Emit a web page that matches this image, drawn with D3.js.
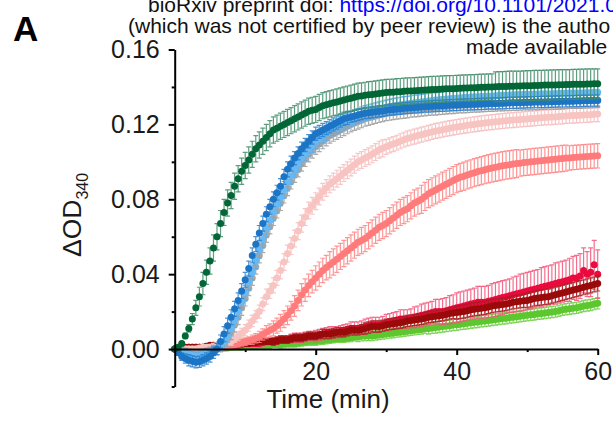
<!DOCTYPE html>
<html lang="en">
<head>
  <meta charset="UTF-8">
  <title>Time course ΔOD340</title>
  <script src="https://cdnjs.cloudflare.com/ajax/libs/d3/7.8.5/d3.min.js"></script>
  <style>
    body { margin: 0; background: #fff; }
    svg { display: block; font-family: "Liberation Sans", Arial, sans-serif; }
  </style>
</head>
<body>
  <svg width="613" height="421"></svg>
  <script>
    // sampling times (min), one reading every 30 s; each row below = 5 min
    const time = [
      0, 0.5, 1, 1.5, 2, 2.5, 3, 3.5, 4, 4.5,
      5, 5.5, 6, 6.5, 7, 7.5, 8, 8.5, 9, 9.5,
      10, 10.5, 11, 11.5, 12, 12.5, 13, 13.5, 14, 14.5,
      15, 15.5, 16, 16.5, 17, 17.5, 18, 18.5, 19, 19.5,
      20, 20.5, 21, 21.5, 22, 22.5, 23, 23.5, 24, 24.5,
      25, 25.5, 26, 26.5, 27, 27.5, 28, 28.5, 29, 29.5,
      30, 30.5, 31, 31.5, 32, 32.5, 33, 33.5, 34, 34.5,
      35, 35.5, 36, 36.5, 37, 37.5, 38, 38.5, 39, 39.5,
      40, 40.5, 41, 41.5, 42, 42.5, 43, 43.5, 44, 44.5,
      45, 45.5, 46, 46.5, 47, 47.5, 48, 48.5, 49, 49.5,
      50, 50.5, 51, 51.5, 52, 52.5, 53, 53.5, 54, 54.5,
      55, 55.5, 56, 56.5, 57, 57.5, 58, 58.5, 59, 59.5,
      60];

    const xTicks = [20, 40, 60];
    const xMinor = [10, 30, 50];
    const yTicks = [0, 0.04, 0.08, 0.12, 0.16];
    const yMinor = [-0.02, 0.02, 0.06, 0.10, 0.14];

    const lime = [
      0, 0, 0, 0, 0, 0, 0, 0, 0, 0,
      0, 0, .0005, .0005, .0005, .0005, .001, .001, .001, .001,
      .0015, .0015, .0015, .0015, .002, .002, .002, .002, .0025, .0025,
      .0025, .0028, .003, .003, .003, .0033, .0035, .0038, .004, .004,
      .004, .0043, .0045, .0048, .005, .0053, .0055, .0055, .0055, .0058,
      .006, .0063, .0065, .0068, .007, .007, .007, .0073, .0075, .0078,
      .008, .0083, .0085, .0088, .009, .0093, .0095, .0098, .010, .0103,
      .0105, .0108, .011, .0113, .0115, .0118, .012, .0123, .0125, .0128,
      .013, .0133, .0135, .0138, .014, .0143, .0145, .0148, .015, .0153,
      .0155, .0158, .016, .0163, .0165, .0168, .017, .0173, .0175, .0178,
      .018, .0183, .0185, .0188, .019, .0193, .0195, .0198, .020, .0205,
      .021, .0213, .0215, .0218, .022, .0225, .023, .0233, .0235, .024,
      .0245];
    const limeErr = [
      0, .0005, .001, .001, .001, .001, .001, .001, .001, .001,
      .001, .001, .001, .001, .001, .001, .001, .001, .001, .001,
      .0015, .0015, .0015, .0015, .0015, .0015, .0015, .0015, .0015, .0015,
      .002, .002, .002, .002, .002, .002, .002, .002, .002, .002,
      .002, .002, .002, .002, .002, .002, .002, .002, .002, .002,
      .002, .002, .0025, .0025, .0025, .0025, .0025, .0025, .0025, .0025,
      .0025, .0025, .0025, .0025, .0025, .0025, .0025, .0025, .0025, .0025,
      .0025, .0025, .003, .003, .003, .003, .003, .003, .003, .003,
      .003, .003, .003, .003, .003, .003, .003, .003, .003, .003,
      .003, .003, .003, .003, .003, .003, .003, .003, .003, .003,
      .003, .003, .003, .003, .003, .003, .003, .003, .003, .003,
      .003, .003, .003, .003, .003, .003, .003, .003, .003, .003,
      .003];

    const crimson = [
      0, 0, 0, .0005, .001, .001, .001, .001, .001, .001,
      .001, .0015, .002, .002, .002, .002, .002, .002, .002, .0025,
      .003, .003, .003, .003, .003, .0035, .004, .004, .004, .0045,
      .005, .005, .005, .0055, .006, .006, .006, .0065, .007, .007,
      .007, .0075, .008, .0085, .009, .009, .009, .0095, .010, .0105,
      .011, .011, .011, .0115, .012, .0125, .013, .013, .013, .0135,
      .014, .0145, .015, .0155, .016, .016, .016, .0165, .017, .0175,
      .018, .0185, .019, .0195, .020, .020, .020, .0205, .021, .0215,
      .022, .0225, .023, .0235, .024, .0245, .025, .025, .025, .0255,
      .026, .0265, .027, .0275, .028, .0285, .029, .0295, .030, .0305,
      .031, .0315, .032, .0325, .033, .0335, .034, .0345, .035, .0355,
      .036, .0365, .037, .038, .038, .039, .042, .040, .041, .045,
      .040];
    const crimsonErr = [
      0, .0005, .001, .001, .001, .001, .001, .001, .001, .001,
      .001, .001, .001, .001, .001, .0015, .0015, .0015, .0015, .0015,
      .0015, .0015, .0015, .0015, .002, .002, .002, .002, .002, .002,
      .002, .002, .002, .0025, .0025, .0025, .0025, .0025, .0025, .0025,
      .003, .003, .003, .003, .003, .003, .003, .003, .003, .003,
      .0035, .0035, .0035, .0035, .004, .004, .004, .004, .004, .004,
      .0045, .0045, .0045, .0045, .005, .005, .005, .005, .0055, .0055,
      .006, .006, .006, .006, .0065, .0065, .007, .007, .0075, .0075,
      .008, .008, .008, .008, .008, .008, .0085, .0085, .0085, .0085,
      .009, .009, .009, .009, .009, .009, .0095, .0095, .010, .010,
      .010, .010, .010, .010, .0105, .0105, .0105, .0105, .011, .011,
      .011, .011, .0115, .0115, .012, .012, .012, .012, .013, .013,
      .013];

    const darkRed = [
      0, .0005, .001, .001, .001, .001, .001, .001, .001, .0015,
      .002, .002, .002, .002, .002, .002, .002, .0025, .0025, .003,
      .003, .003, .0035, .0035, .004, .004, .004, .004, .004, .0045,
      .005, .005, .005, .0055, .006, .006, .006, .0065, .007, .007,
      .007, .0075, .008, .008, .008, .0085, .009, .009, .009, .0095,
      .010, .010, .010, .0105, .011, .0115, .012, .012, .012, .0125,
      .013, .0133, .0135, .0138, .014, .0145, .015, .0153, .0155, .0158,
      .016, .0165, .017, .0173, .0175, .0178, .018, .0185, .019, .0193,
      .0195, .0198, .020, .0205, .021, .0213, .0215, .0218, .022, .0225,
      .023, .0233, .0235, .0238, .024, .0245, .025, .0253, .0255, .0258,
      .026, .0265, .027, .0273, .0275, .0278, .028, .0285, .029, .0295,
      .030, .0305, .031, .0315, .032, .0325, .033, .0335, .034, .0345,
      .035];
    const darkRedErr = [
      0, .0005, .001, .001, .001, .001, .001, .001, .001, .001,
      .001, .001, .001, .001, .001, .001, .001, .001, .0015, .0015,
      .0015, .0015, .0015, .0015, .0015, .0015, .0015, .0015, .002, .002,
      .002, .002, .002, .002, .002, .002, .002, .002, .002, .002,
      .002, .002, .0025, .0025, .0025, .0025, .0025, .0025, .0025, .0025,
      .0025, .0025, .0025, .0025, .003, .003, .003, .003, .003, .003,
      .003, .003, .003, .003, .003, .003, .003, .003, .003, .003,
      .003, .003, .003, .003, .003, .003, .003, .003, .003, .003,
      .0035, .0035, .0035, .0035, .0035, .0035, .0035, .0035, .0035, .0035,
      .0035, .0035, .0035, .0035, .0035, .0035, .0035, .0035, .0035, .0035,
      .004, .004, .004, .004, .004, .004, .004, .004, .004, .004,
      .004, .004, .004, .004, .004, .004, .004, .004, .004, .004,
      .004];

    const salmon = [
      0, 0, 0, 0, 0, 0, 0, 0, 0, 0,
      0, .0005, .001, .001, .001, .0015, .002, .0025, .003, .0035,
      .004, .0045, .005, .0058, .0065, .0078, .009, .010, .011, .0125,
      .014, .016, .018, .0205, .023, .026, .029, .0315, .034, .036,
      .038, .040, .042, .0435, .045, .0465, .048, .0495, .051, .0525,
      .054, .0555, .057, .058, .059, .0605, .062, .0635, .065, .066,
      .067, .0685, .070, .0715, .073, .074, .075, .0765, .078, .079,
      .080, .0815, .083, .084, .085, .086, .087, .088, .089, .090,
      .091, .0917, .0923, .093, .0936, .0942, .0948, .0953, .0958, .0963,
      .0967, .0971, .0975, .0979, .0982, .0985, .0988, .0991, .0993, .0996,
      .0998, .1, .1002, .1004, .1006, .1008, .101, .1012, .1014, .1016,
      .1018, .102, .1021, .1023, .1024, .1026, .1027, .1029, .103, .1031,
      .1032];
    const salmonErr = [
      0, .0005, .001, .001, .001, .001, .001, .001, .001, .001,
      .001, .001, .0015, .0015, .0015, .0015, .0015, .0015, .002, .002,
      .002, .002, .0025, .0025, .003, .003, .0035, .0035, .004, .004,
      .0045, .0045, .005, .005, .0055, .0055, .006, .006, .006, .006,
      .0065, .0065, .0065, .0065, .007, .007, .007, .007, .007, .007,
      .007, .007, .007, .007, .007, .007, .007, .007, .007, .007,
      .007, .007, .007, .007, .007, .007, .007, .007, .007, .007,
      .0075, .0075, .0075, .0075, .0075, .0075, .0075, .0075, .0075, .0075,
      .0075, .0075, .0075, .0075, .0075, .0075, .0075, .0075, .0075, .0075,
      .0075, .0075, .0075, .0075, .0075, .0075, .0075, .0075, .007, .007,
      .007, .007, .007, .007, .007, .007, .007, .007, .007, .007,
      .007, .007, .0065, .0065, .0065, .0065, .0065, .0065, .0065, .0065,
      .0065];

    const pink = [
      0, 0, 0, 0, 0, 0, 0, .0005, .001, .001,
      .001, .0015, .002, .0025, .003, .0035, .004, .0055, .007, .0085,
      .010, .0125, .015, .0175, .020, .024, .028, .031, .034, .038,
      .042, .0465, .051, .055, .059, .063, .067, .0705, .074, .0765,
      .079, .0815, .084, .086, .088, .0895, .091, .0925, .094, .0955,
      .097, .0985, .100, .101, .102, .103, .104, .1052, .1065, .1072,
      .108, .1088, .1095, .1102, .111, .1118, .1125, .113, .1135, .114,
      .1145, .115, .1155, .116, .1165, .1168, .1172, .1176, .118, .1183,
      .1186, .1189, .1192, .1195, .1198, .120, .1203, .1205, .1208, .121,
      .1212, .1214, .1216, .1218, .122, .1222, .1223, .1225, .1226, .1228,
      .1229, .1231, .1232, .1234, .1235, .1237, .1238, .1239, .124, .1242,
      .1243, .1245, .1246, .1247, .1248, .1249, .125, .1251, .1252, .1254,
      .1255];
    const pinkErr = [
      0, .0005, .001, .001, .001, .001, .001, .001, .001, .001,
      .0015, .0015, .0015, .0015, .002, .002, .002, .002, .0025, .0025,
      .003, .003, .003, .003, .0035, .0035, .004, .004, .004, .004,
      .0045, .0045, .0045, .0045, .0045, .0045, .0045, .0045, .0045, .0045,
      .0045, .0045, .0045, .0045, .0045, .0045, .0045, .0045, .0045, .0045,
      .0045, .0045, .0045, .0045, .0045, .0045, .0045, .0045, .0045, .0045,
      .004, .004, .004, .004, .004, .004, .004, .004, .004, .004,
      .004, .004, .004, .004, .004, .004, .004, .004, .004, .004,
      .004, .004, .004, .004, .004, .004, .004, .004, .004, .004,
      .004, .004, .004, .004, .004, .004, .004, .004, .004, .004,
      .004, .004, .004, .004, .004, .004, .004, .004, .004, .004,
      .004, .004, .004, .004, .004, .004, .004, .004, .004, .004,
      .004];

    const gray = [
      0, -.0005, -.001, -.0015, -.002, -.0025, -.003, -.0028, -.002, -.0015,
      -.001, -.0005, 0, .0015, .003, .0055, .009, .013, .017, .022,
      .027, .0325, .038, .044, .050, .0555, .061, .0655, .070, .074,
      .078, .082, .086, .0895, .093, .096, .099, .1015, .104, .106,
      .108, .1095, .111, .1125, .114, .115, .116, .117, .118, .119,
      .120, .1208, .1215, .1222, .123, .1235, .124, .1245, .125, .1255,
      .126, .1262, .1265, .1268, .127, .1272, .1275, .1278, .128, .1282,
      .1284, .1286, .1288, .1289, .129, .1292, .1294, .1295, .1297, .1298,
      .130, .1301, .1302, .1303, .1304, .1305, .1306, .1307, .1308, .1309,
      .131, .1311, .1312, .1312, .1313, .1314, .1315, .1315, .1316, .1317,
      .1318, .1318, .1319, .1319, .132, .132, .1321, .1321, .1322, .1322,
      .1323, .1324, .1325, .1325, .1326, .1326, .1327, .1328, .1328, .1329,
      .133];
    const grayErr = [
      0, .001, .002, .002, .002, .002, .002, .002, .002, .002,
      .002, .0025, .003, .003, .004, .004, .004, .004, .004, .004,
      .004, .004, .004, .004, .004, .004, .004, .004, .004, .004,
      .004, .004, .004, .004, .004, .004, .004, .004, .004, .004,
      .004, .004, .004, .004, .004, .004, .004, .004, .004, .004,
      .004, .004, .004, .004, .004, .004, .004, .004, .004, .004,
      .004, .004, .004, .004, .004, .004, .004, .004, .004, .004,
      .004, .004, .004, .004, .004, .004, .004, .004, .004, .004,
      .004, .004, .004, .004, .004, .004, .004, .004, .004, .004,
      .004, .004, .004, .004, .004, .004, .004, .004, .004, .004,
      .004, .004, .004, .004, .004, .004, .004, .004, .004, .004,
      .004, .004, .004, .004, .004, .004, .004, .004, .004, .004,
      .004];

    const lightBlue = [
      0, -.001, -.002, -.0025, -.003, -.0035, -.004, -.0038, -.003, -.0025,
      -.002, -.001, 0, .002, .004, .007, .011, .0155, .020, .025,
      .030, .0355, .041, .047, .053, .0585, .064, .0685, .073, .077,
      .081, .085, .089, .0925, .096, .099, .102, .1045, .107, .109,
      .111, .1125, .114, .1155, .117, .118, .119, .120, .121, .122,
      .123, .1238, .1245, .1252, .126, .1265, .127, .1275, .128, .1285,
      .129, .1294, .1298, .1302, .1305, .1308, .131, .1313, .1316, .1318,
      .132, .1323, .1325, .1328, .133, .1332, .1334, .1336, .1337, .1339,
      .134, .1342, .1343, .1345, .1346, .1347, .1348, .1349, .135, .1351,
      .1352, .1353, .1354, .1355, .1356, .1357, .1358, .1359, .136, .136,
      .1361, .1361, .1362, .1362, .1363, .1363, .1364, .1364, .1365, .1365,
      .1366, .1366, .1367, .1367, .1368, .1368, .1369, .1369, .137, .1371,
      .1372];
    const lightBlueErr = [
      0, .001, .002, .002, .002, .002, .002, .002, .002, .002,
      .002, .0025, .003, .003, .003, .0035, .004, .004, .004, .004,
      .004, .004, .004, .004, .0045, .0045, .0045, .0045, .0045, .0045,
      .0045, .0045, .0045, .0045, .0045, .0045, .004, .004, .004, .004,
      .004, .004, .004, .004, .004, .004, .004, .004, .004, .004,
      .004, .004, .004, .004, .004, .004, .004, .004, .004, .004,
      .004, .004, .004, .004, .004, .004, .004, .004, .004, .004,
      .004, .004, .004, .004, .004, .004, .004, .004, .004, .004,
      .004, .004, .004, .004, .004, .004, .004, .004, .004, .004,
      .004, .004, .004, .004, .004, .004, .004, .004, .004, .004,
      .004, .004, .004, .004, .004, .004, .004, .004, .004, .004,
      .004, .004, .004, .004, .004, .004, .004, .004, .004, .004,
      .004];

    const darkBlue = [
      0, -.002, -.004, -.005, -.006, -.0065, -.007, -.0068, -.006, -.005,
      -.004, -.002, 0, .004, .008, .0125, .017, .0215, .026, .031,
      .037, .043, .050, .056, .062, .067, .072, .076, .080, .0835,
      .087, .092, .096, .099, .102, .1045, .107, .109, .111, .113,
      .115, .116, .117, .118, .119, .120, .121, .122, .123, .1235,
      .124, .1245, .125, .1255, .126, .1262, .1265, .1268, .127, .1272,
      .1275, .1278, .128, .1282, .1284, .1286, .1288, .1289, .129, .1292,
      .1293, .1295, .1296, .1297, .1298, .1299, .130, .1301, .1302, .1303,
      .1304, .1305, .1306, .1306, .1307, .1308, .1309, .1309, .131, .1311,
      .1312, .1312, .1313, .1313, .1314, .1315, .1316, .1316, .1317, .1317,
      .1318, .1318, .1319, .1319, .132, .132, .1321, .1321, .1322, .1322,
      .1323, .1323, .1324, .1324, .1325, .1325, .1326, .1326, .1327, .1327,
      .1328];
    const darkBlueErr = [
      0, .001, .002, .0025, .003, .003, .003, .003, .003, .003,
      .003, .003, .003, .0035, .004, .004, .004, .004, .004, .004,
      .004, .004, .004, .004, .004, .004, .004, .004, .004, .004,
      .004, .004, .004, .004, .0035, .0035, .0035, .0035, .0035, .0035,
      .0035, .0035, .0035, .0035, .0035, .0035, .0035, .0035, .0035, .0035,
      .003, .003, .003, .003, .003, .003, .003, .003, .003, .003,
      .003, .003, .003, .003, .003, .003, .003, .003, .003, .003,
      .003, .003, .003, .003, .003, .003, .003, .003, .003, .003,
      .003, .003, .003, .003, .003, .003, .003, .003, .003, .003,
      .003, .003, .003, .003, .003, .003, .003, .003, .003, .003,
      .003, .003, .003, .003, .003, .003, .003, .003, .003, .003,
      .003, .003, .003, .003, .003, .003, .003, .003, .003, .003,
      .003];

    const green = [
      0, .001, .003, .007, .011, .016, .022, .028, .035, .041,
      .047, .054, .060, .067, .073, .078, .082, .087, .091, .095,
      .098, .101, .104, .107, .109, .111, .113, .115, .117, .118,
      .119, .120, .121, .122, .123, .124, .125, .126, .127, .1275,
      .128, .129, .130, .1305, .131, .1315, .132, .1325, .133, .1335,
      .134, .1345, .135, .1352, .1355, .1358, .136, .1362, .1365, .1368,
      .137, .1371, .1372, .1374, .1375, .1377, .1378, .1379, .138, .1381,
      .1382, .1384, .1385, .1386, .1387, .1388, .1389, .139, .139, .1391,
      .1392, .1393, .1394, .1395, .1396, .1396, .1397, .1398, .1399, .140,
      .140, .1401, .1402, .1402, .1403, .1404, .1404, .1405, .1405, .1406,
      .1407, .1407, .1408, .1408, .1409, .141, .141, .1411, .1411, .1412,
      .1412, .1413, .1413, .1414, .1414, .1415, .1415, .1416, .1416, .1417,
      .1417];
    const greenErr = [
      0, .0005, .001, .0015, .002, .003, .004, .005, .006, .0065,
      .007, .007, .007, .007, .007, .007, .007, .007, .007, .007,
      .007, .007, .007, .007, .007, .007, .007, .007, .007, .007,
      .007, .007, .007, .007, .007, .007, .007, .007, .007, .007,
      .007, .007, .007, .007, .007, .007, .007, .007, .007, .007,
      .007, .007, .007, .007, .007, .007, .007, .007, .007, .007,
      .007, .007, .007, .007, .007, .007, .007, .007, .007, .007,
      .007, .007, .007, .007, .007, .007, .007, .007, .007, .007,
      .007, .007, .007, .007, .007, .007, .007, .007, .007, .007,
      .007, .008, .008, .008, .008, .008, .008, .008, .008, .008,
      .008, .008, .008, .008, .008, .008, .008, .008, .008, .008,
      .008, .008, .008, .008, .008, .008, .008, .008, .008, .008,
      .008];

    // drawing order: first entry is at the bottom
    const series = [
      { values: lime, err: limeErr, dot: '#5cc72e', bar: '#6fd043' },
      { values: crimson, err: crimsonErr, dot: '#ea0a3d', bar: '#f2557a' },
      { values: darkRed, err: darkRedErr, dot: '#9a0a0a', bar: '#a52020' },
      { values: salmon, err: salmonErr, dot: '#ff7b7b', bar: '#ff8484' },
      { values: pink, err: pinkErr, dot: '#f7c4c1', bar: '#f6bcbc' },
      { values: gray, err: grayErr, dot: '#a6a6a6', bar: '#9c9c9c' },
      { values: lightBlue, err: lightBlueErr, dot: '#66b9f3', bar: '#58aef0' },
      { values: darkBlue, err: darkBlueErr, dot: '#1c74c4', bar: '#2a7fcc' },
      { values: green, err: greenErr, dot: '#036636', bar: '#3f8d68' }
    ];

    const svg = d3.select('svg');
    const x = d3.scaleLinear().domain([0, 60]).range([174.7, 597.7]);
    const y = d3.scaleLinear().domain([-0.02, 0.16]).range([386.5, 49.5]);

    // header of the preprint page
    const header = svg.append('g').attr('font-size', 21).attr('fill', '#111');
    const l1 = header.append('text').attr('x', 148).attr('y', 12);
    l1.append('tspan').text('bioRxiv preprint doi: ');
    l1.append('tspan').attr('fill', '#0000ff').text('https://doi.org/10.1101/2021.0');
    header.append('text').attr('x', 128).attr('y', 33)
      .text('(which was not certified by peer review) is the autho');
    header.append('text').attr('x', 466).attr('y', 54).text('made available');

    svg.append('text').attr('x', 13).attr('y', 41)
      .attr('font-size', 35).attr('font-weight', 'bold').text('A');

    // data
    const plot = svg.append('g');
    series.forEach(s => {
      const g = plot.append('g');
      const pts = time.map((t, i) => ({ t: t, v: s.values[i], e: s.err[i] }));
      g.append('g')
        .attr('stroke', s.bar).attr('stroke-width', 1.2).attr('stroke-opacity', 0.85)
        .attr('fill', 'none')
        .selectAll('path').data(pts.filter(d => d.e > 0)).join('path')
        .attr('d', d => {
          const px = x(d.t), y0 = y(d.v - d.e), y1 = y(d.v + d.e);
          return `M${px},${y0}V${y1}M${px - 2.5},${y1}H${px + 2.5}M${px - 2.5},${y0}H${px + 2.5}`;
        });
      g.append('g').selectAll('circle').data(pts).join('circle')
        .attr('cx', d => x(d.t))
        .attr('cy', d => y(d.v))
        .attr('r', 3.5)
        .attr('fill', s.dot);
    });

    // axes
    svg.append('g').attr('transform', `translate(${x(0)},0)`)
      .call(d3.axisLeft(y).tickValues(yTicks).tickFormat(d3.format('.2f'))
        .tickSize(6).tickPadding(9).tickSizeOuter(0));
    svg.append('g').attr('transform', `translate(${x(0)},0)`)
      .call(d3.axisLeft(y).tickValues(yMinor).tickFormat('').tickSize(3).tickSizeOuter(0))
      .call(g => g.select('.domain').remove());

    svg.append('g').attr('transform', `translate(0,${y(0)})`)
      .call(d3.axisBottom(x).tickValues(xTicks).tickSize(6).tickPadding(7).tickSizeOuter(0));
    svg.append('g').attr('transform', `translate(0,${y(0)})`)
      .call(d3.axisBottom(x).tickValues(xMinor).tickFormat('').tickSize(3).tickSizeOuter(0))
      .call(g => g.select('.domain').remove());

    svg.selectAll('.domain, .tick line').attr('stroke', '#000').attr('stroke-width', 2);
    svg.selectAll('.tick text')
      .attr('font-family', '"Liberation Sans", Arial, sans-serif')
      .attr('font-size', 25).attr('fill', '#1a1a1a');

    svg.append('text').attr('x', 328).attr('y', 408)
      .attr('text-anchor', 'middle').attr('font-size', 26).attr('fill', '#1a1a1a')
      .text('Time (min)');

    const yTitle = svg.append('text').attr('transform', 'translate(81,257) rotate(-90)')
      .attr('font-size', 26.5).attr('fill', '#1a1a1a');
    yTitle.append('tspan').text('ΔOD');
    yTitle.append('tspan').attr('font-size', 16).attr('dy', 7).text('340');
  </script>
</body>
</html>
